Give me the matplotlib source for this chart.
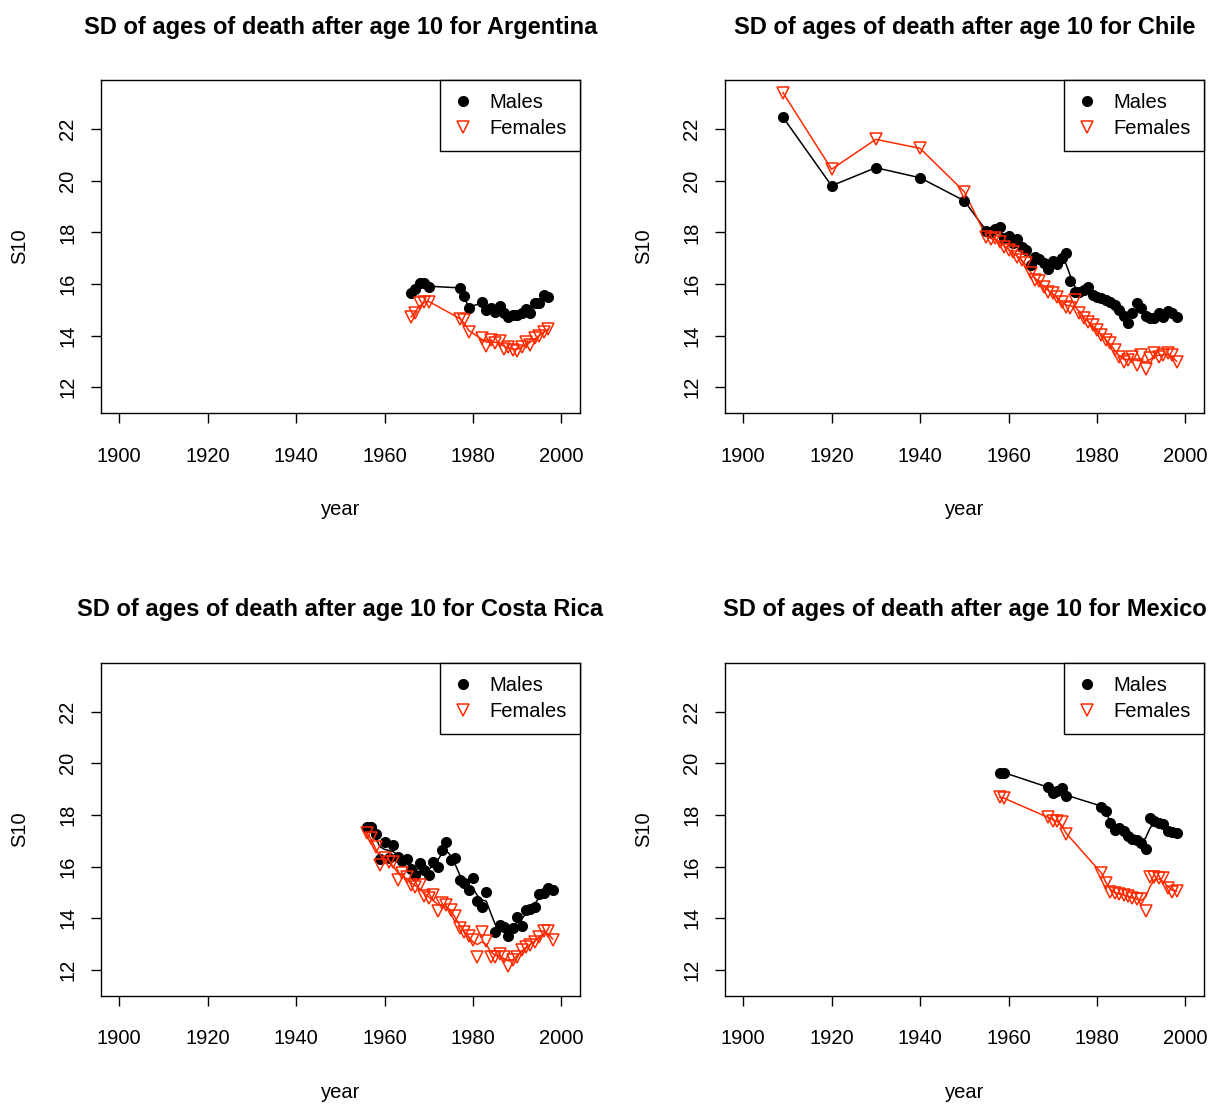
import numpy as np
import matplotlib.pyplot as plt

plt.rcParams['font.family'] = ['Liberation Sans', 'DejaVu Sans']

COLOUR_MALE = 'black'
COLOUR_FEMALE = '#ff2a00'

# ── Data ──────────────────────────────────────────────────────────────────────

arg_years = [1966, 1967, 1968, 1969, 1970, 1977, 1978, 1979] + list(range(1982, 1998))
arg_males = [15.65, 15.8, 16.05, 16.05, 15.9, 15.84, 15.54, 15.06,
             15.3, 15.0, 15.06, 14.93, 15.15, 14.87, 14.74, 14.8, 14.8, 14.87,
             15.02, 14.87, 15.28, 15.25, 15.58, 15.49]
arg_females = [14.74, 14.89, 15.26, 15.3, 15.32, 14.64, 14.6, 14.16,
               13.9, 13.6, 13.85, 13.7, 13.8, 13.5, 13.55, 13.45, 13.4, 13.55,
               13.75, 13.65, 13.9, 14.0, 14.15, 14.25]

chl_years = [1909, 1920, 1930, 1940, 1950] + list(range(1955, 1999))
chl_males = [22.47, 19.81, 20.51, 20.12, 19.23,
             18.07, 18.03, 18.12, 18.2, 17.77, 17.86, 17.58, 17.74, 17.45, 17.32,
             16.74, 17.06, 16.96, 16.81, 16.57, 16.91, 16.78, 17.0, 17.19, 16.13,
             15.71, 15.71, 15.77, 15.88, 15.58, 15.49, 15.45, 15.39, 15.32, 15.19,
             15.0, 14.76, 14.48, 14.87, 15.28, 15.06, 14.76, 14.67, 14.67, 14.87,
             14.74, 14.97, 14.87, 14.71]
chl_females = [23.42, 20.45, 21.61, 21.26, 19.58,
               17.84, 17.73, 17.77, 17.64, 17.45, 17.32, 17.26, 17.06, 16.94, 16.81,
               16.42, 16.16, 16.1, 15.9, 15.71, 15.64, 15.49, 15.32, 15.1, 15.06,
               15.39, 14.87, 14.67, 14.54, 14.41, 14.22, 14.02, 13.83, 13.7, 13.44,
               13.19, 12.99, 13.06, 13.19, 12.86, 13.25, 12.7, 13.12, 13.32, 13.19,
               13.25, 13.32, 13.25, 12.99]

cri_years_m = list(range(1956, 1984)) + list(range(1985, 1999))
cri_males = [17.52, 17.52, 17.25, 16.3, 16.97, 16.35, 16.84, 16.38, 16.2, 16.3,
             15.9, 15.67, 16.13, 15.87, 15.67, 16.19, 16.0, 16.65, 16.96, 16.25,
             16.32, 15.48, 15.35, 15.09, 15.56, 14.68, 14.43, 15.03,
             13.48, 13.74, 13.67, 13.31, 13.61, 14.06, 13.7, 14.32, 14.35, 14.45,
             14.94, 14.96, 15.16, 15.09]
cri_years_f = list(range(1956, 1999))
cri_females = [17.3, 17.1, 16.77, 16.06, 16.32, 16.19, 16.19, 15.48, 15.74, 15.6,
               15.29, 15.22, 15.29, 14.84, 14.77, 14.9, 14.26, 14.58, 14.51, 14.32,
               14.1, 13.61, 13.48, 13.29, 13.16, 12.51, 13.48, 13.1, 12.51, 12.48,
               12.6, 12.51, 12.15, 12.38, 12.51, 12.77, 12.87, 12.96, 13.09, 13.25,
               13.52, 13.52, 13.16]

mex_years = [1958, 1959, 1969, 1970, 1971, 1972, 1973] + list(range(1981, 1999))
mex_males = [19.64, 19.64, 19.1, 18.84, 18.94, 19.03, 18.74,
             18.32, 18.16, 17.7, 17.42, 17.48, 17.39, 17.18, 17.06, 17.03, 16.93,
             16.67, 17.87, 17.77, 17.7, 17.65, 17.39, 17.35, 17.29]
mex_females = [18.69, 18.65, 17.91, 17.78, 17.78, 17.74, 17.26,
               15.76, 15.35, 15.03, 14.96, 14.94, 14.9, 14.86, 14.77, 14.73, 14.75,
               14.29, 15.6, 15.58, 15.54, 15.54, 15.15, 15.03, 15.06]

x_ticks = [1900, 1920, 1940, 1960, 1980, 2000]
y_ticks = [12, 14, 16, 18, 20, 22]


# ── Helpers ───────────────────────────────────────────────────────────────────

def smooth(years, values, bw=1.0):
    """Local linear smoother with a narrow Gaussian kernel (for the trend line)."""
    x = np.asarray(years, float)
    y = np.asarray(values, float)
    out = []
    for x0 in x:
        w = np.exp(-0.5 * ((x - x0) / bw) ** 2)
        mx = (w * x).sum() / w.sum()
        my = (w * y).sum() / w.sum()
        sxx = (w * (x - mx) ** 2).sum()
        slope = (w * (x - mx) * (y - my)).sum() / sxx if sxx > 1e-12 else 0.0
        out.append(my + slope * (x0 - mx))
    return np.array(out)


def draw_panel(ax, country, ym, males, yf, females):
    ax.plot(ym, smooth(ym, males), color=COLOUR_MALE, lw=1.1, zorder=2)
    ax.plot(yf, smooth(yf, females), color=COLOUR_FEMALE, lw=1.1, zorder=2)
    ax.plot(ym, males, 'o', color=COLOUR_MALE, ms=7, zorder=3, label='Males')
    ax.plot(yf, females, 'v', mfc='none', mec=COLOUR_FEMALE, mew=1.1, ms=8.5,
            zorder=3, label='Females')

    ax.set_xlim(1895.9, 2004.2)
    ax.set_ylim(10.99, 23.91)
    ax.set_xticks(x_ticks)
    ax.set_yticks(y_ticks)
    ax.tick_params(direction='out', length=7, width=1, labelsize=14.5)
    ax.tick_params(axis='x', pad=17)
    ax.tick_params(axis='y', pad=10)
    for lab in ax.get_yticklabels():
        lab.set_rotation(90)
        lab.set_va('center')
    for s in ax.spines.values():
        s.set_linewidth(1)

    ax.text(0.5, 1.158, f'SD of ages of death after age 10 for {country}',
            transform=ax.transAxes, ha='center', va='center',
            fontsize=17, fontweight='bold')
    ax.text(0.5, -0.29, 'year', transform=ax.transAxes,
            ha='center', va='center', fontsize=14.5)
    ax.text(-0.169, 0.5, 'S10', transform=ax.transAxes, rotation=90,
            ha='center', va='center', fontsize=14.5)

    leg = ax.legend(loc='upper right', borderaxespad=0, fancybox=False,
                    edgecolor='black', framealpha=1, fontsize=14.5,
                    handlelength=1.0, handletextpad=0.8,
                    borderpad=0.65, labelspacing=0.35)
    leg.get_frame().set_linewidth(1)


# ── Figure ────────────────────────────────────────────────────────────────────

W, H = 1213, 1106
fig = plt.figure(figsize=(W / 100, H / 100), dpi=100)


def axes_px(left, top, right, bottom):
    return fig.add_axes([left / W, 1 - bottom / H, (right - left) / W, (bottom - top) / H])


ax1 = axes_px(101, 80, 580, 413.3)
ax2 = axes_px(725, 80, 1204, 413.3)
ax3 = axes_px(101, 662.5, 580, 995.8)
ax4 = axes_px(725, 662.5, 1204, 995.8)

draw_panel(ax1, 'Argentina', arg_years, arg_males, arg_years, arg_females)
draw_panel(ax2, 'Chile', chl_years, chl_males, chl_years, chl_females)
draw_panel(ax3, 'Costa Rica', cri_years_m, cri_males, cri_years_f, cri_females)
draw_panel(ax4, 'Mexico', mex_years, mex_males, mex_years, mex_females)

fig.savefig('out.png', dpi=100)
